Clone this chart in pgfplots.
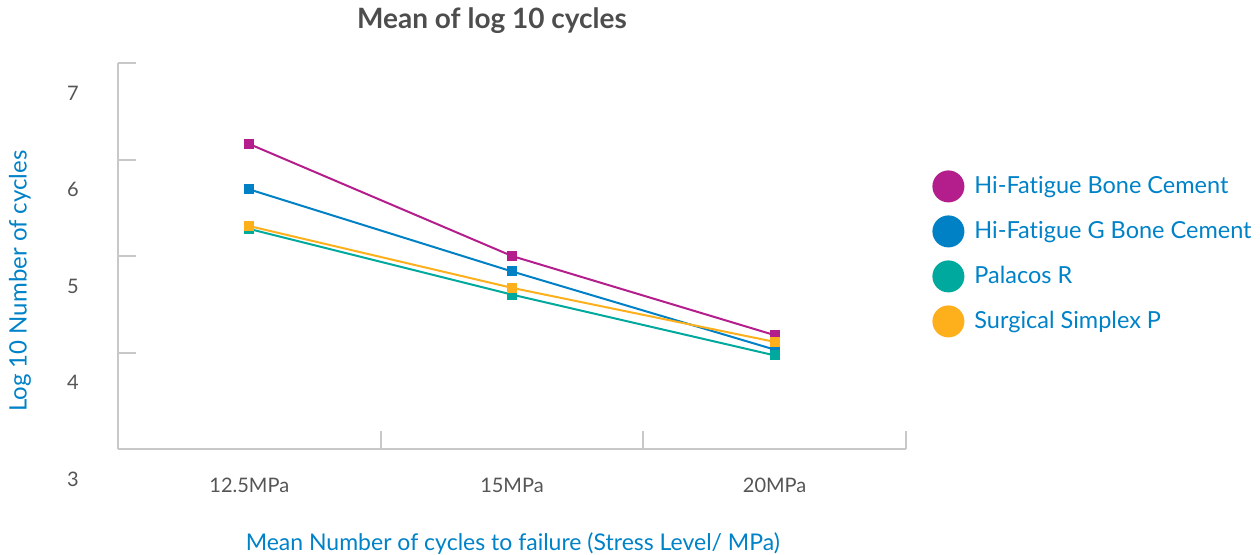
\documentclass[border=0pt]{standalone}
\usepackage{fontspec}
\setmainfont{Lato}[Ligatures=NoCommon]
\usepackage{pgfplots}
\pgfplotsset{compat=1.18}
\definecolor{cMag}{RGB}{180,30,140}
\definecolor{cBlue}{RGB}{0,129,198}
\definecolor{cGreen}{RGB}{0,169,157}
\definecolor{cOrange}{RGB}{253,176,27}
\definecolor{cText}{RGB}{0,130,200}
\definecolor{cAxis}{RGB}{200,200,200}
\definecolor{cTick}{RGB}{85,85,85}
\definecolor{cTitle}{RGB}{77,77,77}
\pgfplotsset{
  circlelegend/.style={legend image code/.code={\fill[#1] (7.5pt,0pt) circle (7.5pt);}}
}
\begin{document}
\begin{tikzpicture}
\useasboundingbox (0,0) rectangle (630pt,277pt);
\begin{axis}[
  at={(59pt,52.5pt)}, anchor=south west,
  width=394pt, height=193pt, scale only axis,
  xmin=-0.5, xmax=2.5, ymin=3, ymax=7,
  axis lines=left,
  axis line style={-, cAxis, line width=1pt},
  xtick={-0.5,0.5,1.5,2.5},
  xticklabels={12.5MPa,15MPa,20MPa},
  x tick label as interval,
  ytick={3,4,5,6,7},
  tick align=inside, major tick length=9pt,
  tick style={cAxis, line width=1pt},
  /pgf/number format/assume math mode=true,
  ticklabel style={font=\fontsize{10}{12}\selectfont, text=cTick},
  yticklabel style={anchor=center, xshift=-22.5pt, yshift=-15pt},
  xticklabel style={anchor=center, yshift=-18pt},
  title={Mean of log 10 cycles},
  title style={at={(axis description cs:0.4746,1.111)}, anchor=center, yshift=-6pt,
    font=\bfseries\fontsize{14}{16}\selectfont, text=cTitle},
  xlabel={Mean Number of cycles to failure (Stress Level/ MPa)},
  xlabel style={at={(axis description cs:0.501,-0.245)}, anchor=center,
    font=\fontsize{11.5}{13}\selectfont, text=cText},
  ylabel={Log 10 Number of cycles},
  ylabel style={at={(axis description cs:-0.1244,0.435)}, anchor=center,
    font=\fontsize{12}{14}\selectfont, text=cText},
  circlelegend,
  legend style={draw=none, fill=none, at={(axis description cs:1.033,0.7228)},
    anchor=north west, inner sep=0pt, row sep=6.5pt,
    font=\fontsize{11.75}{13}\selectfont, text=cText,
    cells={anchor=west},
    /tikz/every odd column/.append style={column sep=3pt}},
  every axis plot/.append style={line width=1pt, mark=square*, mark size=2pt, mark options={solid}},
]
\addplot[cMag] coordinates {(0,6.16) (1,5.00) (2,4.18)};
\addlegendentry{Hi-Fatigue Bone Cement}
\addplot[cBlue] coordinates {(0,5.69) (1,4.84) (2,4.03)};
\addlegendentry{Hi-Fatigue G Bone Cement}
\addplot[cGreen] coordinates {(0,5.28) (1,4.60) (2,3.97)};
\addlegendentry{Palacos R}
\addplot[cOrange] coordinates {(0,5.31) (1,4.67) (2,4.11)};
\addlegendentry{Surgical Simplex P}
\end{axis}
\end{tikzpicture}
\end{document}
